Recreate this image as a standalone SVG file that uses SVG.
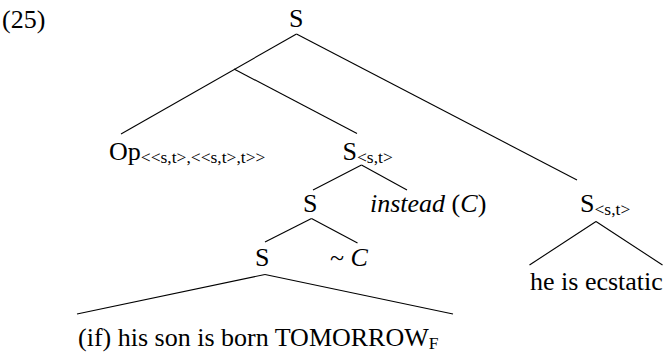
<svg xmlns="http://www.w3.org/2000/svg" width="667" height="352" viewBox="0 0 667 352" font-family="'Liberation Serif', 'DejaVu Serif', serif">
<style>
text{fill:#000}
.m{font-size:26px}
.s{font-size:17.5px}
.i{font-style:italic}
#edges line{stroke:#000;stroke-width:1.1}
</style>
<rect width="667" height="352" fill="#fff"/>
<text class="m" x="2" y="28">(25)</text>
<g id="edges">
<line x1="296.5" y1="34" x2="121" y2="134"/>
<line x1="234" y1="69" x2="357" y2="133.5"/>
<line x1="296.5" y1="34" x2="577" y2="180"/>
<line x1="361.5" y1="165" x2="313" y2="190"/>
<line x1="361.5" y1="165" x2="407" y2="190"/>
<line x1="311.5" y1="218.5" x2="265" y2="242"/>
<line x1="311.5" y1="218.5" x2="357.5" y2="243"/>
<line x1="265" y1="274.5" x2="77" y2="314"/>
<line x1="265" y1="274.5" x2="453" y2="314"/>
<line x1="596" y1="221.5" x2="529.5" y2="265"/>
<line x1="596" y1="221.5" x2="662.5" y2="265"/>
</g>
<g id="n-root"><text class="m" x="289" y="27">S</text></g>
<g id="n-op"><text class="m" x="109" y="160">Op<tspan class="s" dy="3">&lt;&lt;s,t&gt;,&lt;&lt;s,t&gt;,t&gt;&gt;</tspan></text></g>
<g id="n-sst1"><text class="m" x="342.5" y="160">S<tspan class="s" dy="3">&lt;s,t&gt;</tspan></text></g>
<g id="n-s1"><text class="m" x="303" y="212">S</text></g>
<g id="n-instead"><text class="m" x="370" y="212"><tspan class="i">instead</tspan> (<tspan class="i">C</tspan>)</text></g>
<g id="n-s2"><text class="m" x="255" y="266">S</text></g>
<g id="n-c"><text class="m" x="330" y="266">~ <tspan class="i">C</tspan></text></g>
<g id="n-leaf1"><text class="m" x="78" y="346">(if) his son is born TOMORROW<tspan class="s" dy="3">F</tspan></text></g>
<g id="n-sst2"><text class="m" x="580" y="212">S<tspan class="s" dy="3">&lt;s,t&gt;</tspan></text></g>
<g id="n-leaf2"><text class="m" x="530" y="290">he is ecstatic</text></g>
</svg>
